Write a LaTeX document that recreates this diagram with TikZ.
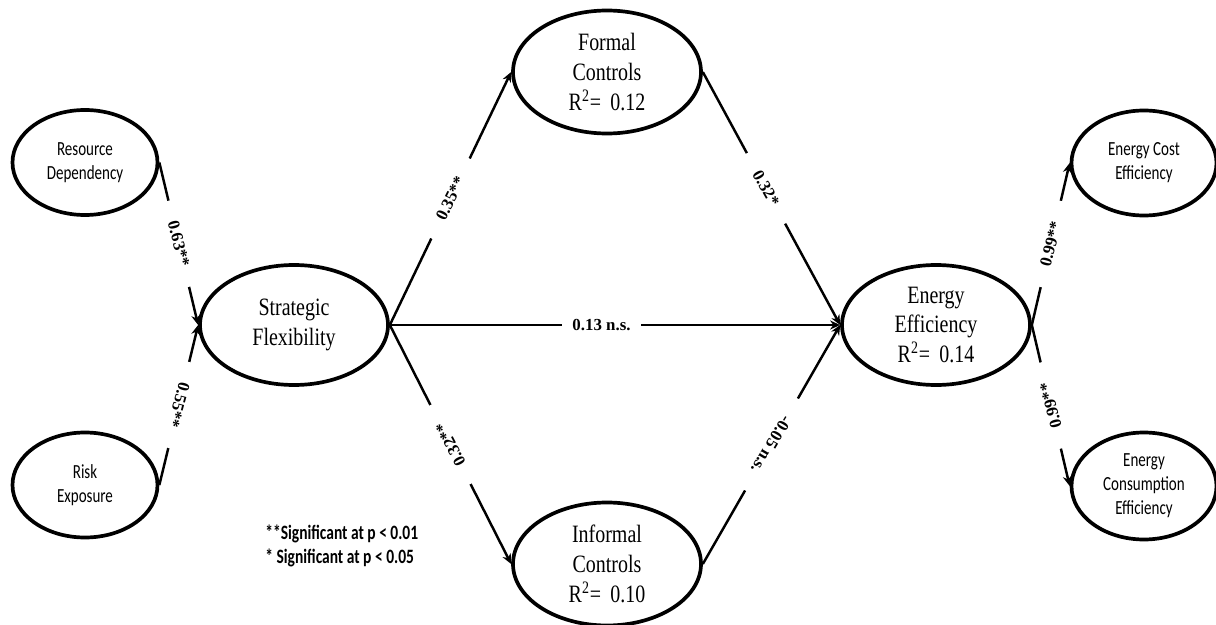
\documentclass[tikz,border=0pt]{standalone}
\usepackage{fontspec}
\setmainfont{Liberation Serif}
\newfontfamily\narrowserif[FakeStretch=0.80]{Liberation Serif}
\newfontfamily\narrowsans[FakeStretch=0.75]{Carlito}
\newfontfamily\legendsans[FakeStretch=0.76]{Carlito}
\usetikzlibrary{shapes.geometric,arrows.meta}

\begin{document}
\begin{tikzpicture}[
  latent/.style={ellipse, draw=black, line width=2.1pt, align=center, inner sep=0pt,
                 minimum width=3.76cm, minimum height=2.4cm,
                 font=\narrowserif\fontsize{14.2}{17}\selectfont},
  manifest/.style={ellipse, draw=black, line width=2.1pt, align=center, inner sep=0pt,
                   minimum width=2.9cm, minimum height=2.1cm,
                   font=\narrowsans\fontsize{11.4}{13.7}\selectfont},
  coef/.style={fill=white, inner xsep=0.42cm, inner ysep=2pt,
               font=\bfseries\fontsize{9.6}{10}\selectfont},
  note/.style={align=left, inner sep=0pt,
               font=\legendsans\bfseries\fontsize{11.6}{13.2}\selectfont},
  arr/.style={-{Stealth[length=2mm,width=1.8mm]}, line width=1.4pt, black},
]
\useasboundingbox (0,0) rectangle (24.32,-12.5);

% Antecedents
\node[manifest] (RD) at (1.70,-3.25) {Resource\\Dependency};
\node[manifest] (RE) at (1.70,-9.70) {Risk\\Exposure};

% Latent constructs
\node[latent] (SF) at ( 5.88,-6.50) {Strategic\\Flexibility};
\node[latent, minimum height=2.46cm] (FC) at (12.14,-1.44) {Formal\\Controls\\R\textsuperscript{2}=\ \,0.12};
\node[latent, minimum height=2.46cm] (IC) at (12.14,-11.28) {Informal\\Controls\\R\textsuperscript{2}=\ \,0.10};
\node[latent] (EE) at (18.72,-6.50) {Energy\\Efficiency\\R\textsuperscript{2}=\ \,0.14};

% Outcome dimensions
\node[manifest] (ECE) at (22.88,-3.26) {Energy Cost\\Efficiency};
\node[manifest, minimum height=2.14cm] (ECN) at (22.88,-9.72) {Energy\\Consumption\\Efficiency};

% Paths into Strategic Flexibility
\draw[arr] (RD.east) -- node[coef, rotate=-75.3] {0.63**} (SF.west);
\draw[arr] (RE.east) -- node[coef, rotate=-104.9] {0.55**} (SF.west);

% Paths through the controls
\draw[arr] (SF.east) -- node[coef, rotate=63.6] {0.35**} (FC.west);
\draw[arr] (SF.east) -- node[coef, rotate=117.6] {0.32**} (IC.west);
\draw[arr] (FC.east) -- node[coef, pos=0.46, rotate=-60.8] {0.32*} (EE.west);
\draw[arr] (IC.east) -- node[coef, rotate=-120.5] {-0.05 n.s.} (EE.west);
\draw[arr] (SF.east) -- node[coef, pos=0.47, inner xsep=0.2cm] {0.13 n.s.} (EE.west);

% Energy Efficiency dimensions
\draw[arr] (EE.east) -- node[coef, rotate=75.6] {0.99**} (ECE.west);
\draw[arr] (EE.east) -- node[coef, rotate=104.5] {0.99**} (ECN.west);

% Significance legend
\node[note, anchor=west] (legend) at (5.30,-10.92)
  {**Significant at p < 0.01\\* Significant at p < 0.05};

\end{tikzpicture}
\end{document}
